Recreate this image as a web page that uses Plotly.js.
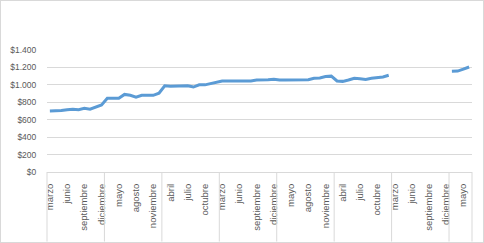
<!DOCTYPE html>
<html>
<head>
<meta charset="utf-8">
<script src="https://cdn.plot.ly/plotly-3.0.1.min.js"></script>
<style>
  html, body { margin: 0; padding: 0; background: #fff; }
  #wrap { position: relative; width: 484px; height: 243px; }
  #chart { width: 484px; height: 243px; }
  #frame { position: absolute; left: 0; top: 0; width: 482px; height: 241px; border: 1px solid #d9d9d9; pointer-events: none; }
</style>
</head>
<body>
<div id="wrap"><div id="chart"></div><div id="frame"></div></div>
<script>
// Month names of each period (marzo..diciembre repeated, last period marzo..junio)
var periodMonths = ['marzo','abril','mayo','junio','julio','agosto','septiembre','octubre','noviembre','diciembre'];
var groupSizes = [10, 10, 10, 10, 10, 10, 10, 4];

// Series values per month (null = no data)
var values = [
  700, 700, 705, 715, 720, 715, 730, 720, 745, 770,
  845, 845, 845, 890, 880, 860, 880, 880, 880, 905,
  990, 985, 985, 990, 990, 975, 1000, 1000, 1015, 1025,
  1045, 1045, 1045, 1045, 1045, 1045, 1055, 1055, 1060, 1065,
  1055, 1055, 1055, 1055, 1055, 1058, 1075, 1080, 1095, 1100,
  1045, 1040, 1055, 1075, 1070, 1062, 1075, 1085, 1090, 1110,
  null, null, null, null, null, null, null, null, null, null,
  1155, 1158, 1180, 1205
];

var yTicks = [0, 200, 400, 600, 800, 1000, 1200, 1400];
var yTickLabels = ['$0', '$200', '$400', '$600', '$800', '$1.000', '$1.200', '$1.400'];

// Build category labels
var months = [];
groupSizes.forEach(function (n) {
  for (var i = 0; i < n; i++) months.push(periodMonths[i]);
});
var idx = months.map(function (_, i) { return i; });
var tickvals = idx.filter(function (i) { return i % 3 === 0; });
var ticktext = tickvals.map(function (i) { return months[i]; });

// Group separator positions (in category units)
var bounds = [-0.5];
var acc = 0;
groupSizes.forEach(function (n) { acc += n; bounds.push(acc - 0.5); });

var W = 484, H = 243;
var margin = { l: 46.5, r: 12, t: 50, b: 70.7, pad: 0 };
var plotH = H - margin.t - margin.b;
var belowFrac = -(margin.b - 1) / plotH;
var xRange = [-0.5, months.length - 0.5];

var shapes = bounds.map(function (b) {
  var px = (b - xRange[0]) / (xRange[1] - xRange[0]);
  return {
    type: 'line', xref: 'paper', yref: 'paper',
    x0: px, x1: px, y0: 0, y1: belowFrac,
    line: { color: '#d9d9d9', width: 1 }
  };
});

var trace = {
  x: idx,
  y: values,
  type: 'scatter',
  mode: 'lines',
  connectgaps: false,
  line: { color: '#5b9bd5', width: 3 },
  hoverinfo: 'skip'
};

var layout = {
  width: W, height: H,
  margin: margin,
  paper_bgcolor: '#fff',
  plot_bgcolor: '#fff',
  showlegend: false,
  font: { family: 'Liberation Sans, Arial, sans-serif', color: '#595959' },
  xaxis: {
    range: xRange,
    tickmode: 'array',
    tickvals: tickvals,
    ticktext: ticktext,
    tickangle: -90,
    tickfont: { size: 9.5, color: '#595959' },
    showgrid: false,
    zeroline: false,
    showline: true,
    linecolor: '#d9d9d9',
    linewidth: 1,
    ticks: 'outside',
    ticklen: 7,
    tickcolor: 'rgba(0,0,0,0)',
    fixedrange: true
  },
  yaxis: {
    range: [0, 1400],
    tickmode: 'array',
    tickvals: yTicks,
    ticktext: yTickLabels,
    tickfont: { size: 8.5, color: '#595959' },
    showgrid: true,
    gridcolor: '#d9d9d9',
    gridwidth: 1,
    zeroline: false,
    showline: false,
    ticks: 'outside',
    ticklen: 8,
    tickcolor: 'rgba(0,0,0,0)',
    fixedrange: true
  },
  shapes: shapes
};

Plotly.newPlot('chart', [trace], layout, { displayModeBar: false, staticPlot: true });
</script>
</body>
</html>
